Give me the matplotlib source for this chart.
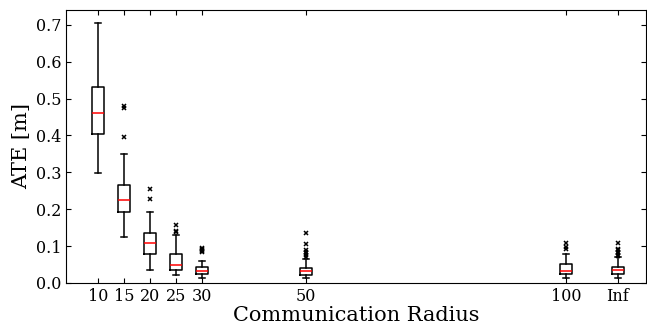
import numpy as np
import matplotlib.pyplot as plt

plt.rcParams['font.family'] = 'DejaVu Serif'

# communication radius (Inf drawn at 110)
radius = [10, 15, 20, 25, 30, 50, 100, 110]
labels = ['10', '15', '20', '25', '30', '50', '100', 'Inf']

# box statistics
whislo = [0.297, 0.125, 0.036, 0.022, 0.013, 0.012, 0.014, 0.014]
q1 = [0.405, 0.192, 0.078, 0.035, 0.024, 0.022, 0.024, 0.024]
med = [0.460, 0.224, 0.109, 0.049, 0.032, 0.032, 0.033, 0.034]
q3 = [0.531, 0.265, 0.135, 0.077, 0.042, 0.040, 0.050, 0.044]
whishi = [0.705, 0.350, 0.193, 0.130, 0.058, 0.065, 0.078, 0.071]
fliers = [
    [],
    [0.395, 0.475, 0.481],
    [0.228, 0.255],
    [0.137, 0.140, 0.157],
    [0.083, 0.086, 0.089, 0.092, 0.095],
    [0.070, 0.075, 0.080, 0.085, 0.090, 0.105, 0.135],
    [0.091, 0.098, 0.107],
    [0.072, 0.076, 0.080, 0.084, 0.088, 0.092, 0.108],
]

stats = []
for i in range(len(radius)):
    stats.append(dict(whislo=whislo[i], q1=q1[i], med=med[i], q3=q3[i],
                      whishi=whishi[i], fliers=np.array(fliers[i])))

fig = plt.figure(figsize=(6.47, 3.27), dpi=100)
ax = fig.add_axes([0.102, 0.135, 0.897, 0.834])

ax.bxp(stats, positions=radius, widths=2.4,
       boxprops=dict(color='black', linewidth=1.1),
       whiskerprops=dict(color='black', linewidth=1.1),
       capprops=dict(color='black', linewidth=1.1),
       medianprops=dict(color='red', linewidth=1.1),
       flierprops=dict(marker='x', markersize=3, markeredgecolor='black',
                       markeredgewidth=1.1))

ax.set_xlim(3.8, 115.5)
ax.set_ylim(0, 0.74)
ax.set_xticks(radius)
ax.set_xticklabels(labels)
ax.set_yticks(np.arange(0, 0.71, 0.1))
ax.tick_params(direction='in', top=True, right=True, labelsize=11.5)
ax.set_xlabel('Communication Radius', fontsize=15, labelpad=1)
ax.set_ylabel('ATE [m]', fontsize=15, labelpad=3)

fig.savefig('out.png', dpi=100)
